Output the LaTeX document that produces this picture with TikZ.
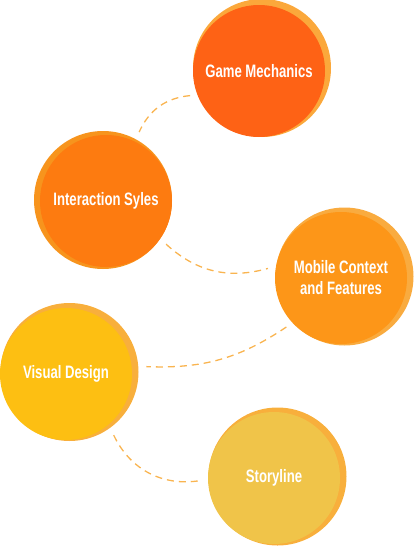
\documentclass[tikz,border=0pt]{standalone}
\usepackage{fontspec}
\newfontfamily\bubblefont{Liberation Sans Bold}[FakeStretch=0.73]
\definecolor{gmfill}{HTML}{FE6215}
\definecolor{gmring}{HTML}{FBA83B}
\definecolor{isfill}{HTML}{FD7B10}
\definecolor{isring}{HTML}{F7941D}
\definecolor{mcfill}{HTML}{FD9618}
\definecolor{mcring}{HTML}{F9AB3F}
\definecolor{vdfill}{HTML}{FDBF12}
\definecolor{vdring}{HTML}{F8AF3C}
\definecolor{stfill}{HTML}{F0C449}
\definecolor{string}{HTML}{F8AF3C}
\definecolor{linkcol}{HTML}{F9B450}

\begin{document}
\begin{tikzpicture}[x=1pt,y=-1pt,
    ring/.style={circle,minimum size=138pt,inner sep=0pt,outer sep=8pt},
    bubble/.style={circle,minimum size=132pt,inner sep=0pt,text=white,
      align=center,font=\bubblefont\fontsize{18}{21}\selectfont},
    link/.style={draw=linkcol,dash pattern=on 7pt off 5pt,line width=1.3pt}]
  \useasboundingbox (0,0) rectangle (415,546);

  % back rings
  \node[ring,fill=gmring] (gmr) at (262,68) {};
  \node[ring,fill=isring] (isr) at (103,200) {};
  \node[ring,fill=mcring] (mcr) at (344.5,276.5) {};
  \node[ring,fill=vdring] (vdr) at (69.5,372) {};
  \node[ring,fill=string] (str) at (277.5,476.5) {};

  % bubbles
  \node[bubble,fill=gmfill] (gm) at (259,71) {Game Mechanics};
  \node[bubble,fill=isfill] (is) at (106,201) {Interaction Syles};
  \node[bubble,fill=mcfill] (mc) at (341,278) {Mobile Context\\and Features};
  \node[bubble,fill=vdfill] (vd) at (66,374) {Visual Design};
  \node[bubble,fill=stfill] (st) at (274,478) {Storyline};

  % dashed links
  \draw[link] (gmr.201) to[bend right=30] (isr.62);
  \draw[link] (isr.-35) to[bend right=29] (mcr.174);
  \draw[link] (mcr.221) to[bend left=18] (vdr.4);
  \draw[link] (vdr.-55) to[bend right=37] (str.183);
\end{tikzpicture}
\end{document}
